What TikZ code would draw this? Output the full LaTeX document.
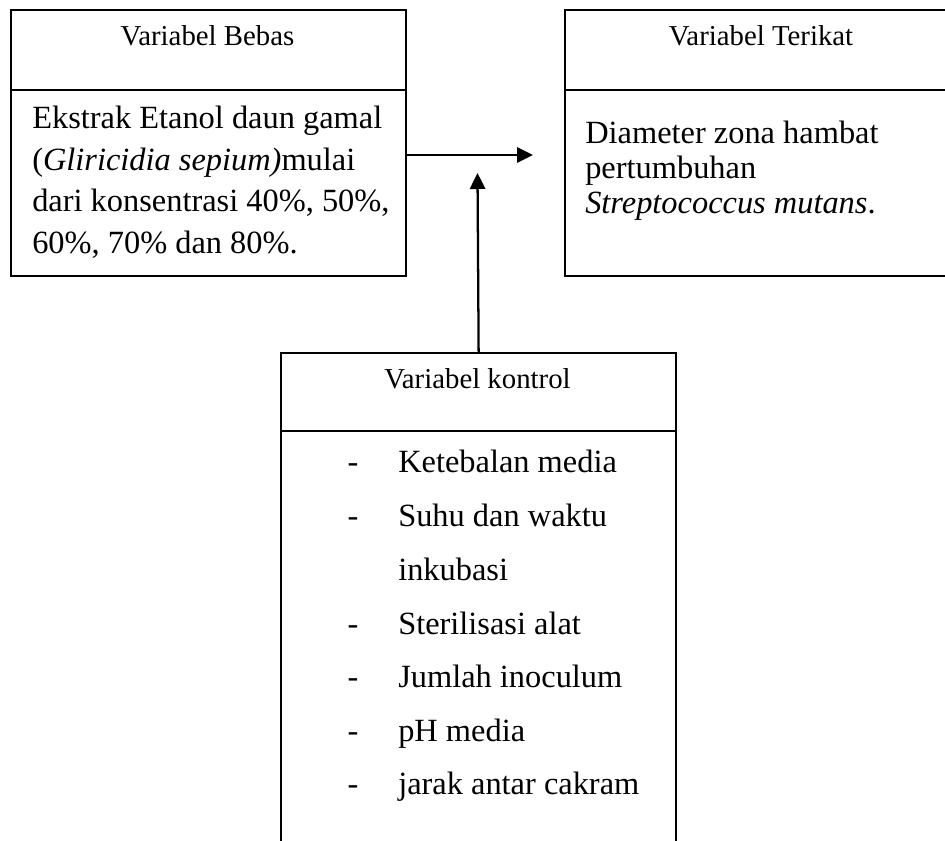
\documentclass[tikz,border=0pt]{standalone}
\usepackage{fontspec}
\setmainfont{Liberation Serif}
\usetikzlibrary{arrows.meta}
\tikzset{
  cell/.style={draw, line width=1.7pt, rectangle, inner sep=0pt, anchor=north west},
  headtxt/.style={font=\fontsize{21.6}{26}\selectfont, inner sep=0pt, anchor=base},
  bodytxt/.style={font=\fontsize{24.3}{29}\selectfont, inner sep=0pt, anchor=base west},
  dashtxt/.style={font=\fontsize{24.3}{29}\selectfont, inner sep=0pt, anchor=base},
  arr/.style={line width=1.7pt, -{Triangle[length=12pt,width=11.5pt]}}
}
\begin{document}
\begin{tikzpicture}[x=0.75pt,y=-0.75pt]
\useasboundingbox (0,0) rectangle (945,841);
\clip (0,0) rectangle (945,841);
\fill[white] (0,0) rectangle (945,841);
% Variabel Bebas
\node[cell, minimum width=395*0.75pt, minimum height=80*0.75pt] (bebasH) at (10,9) {};
\node[cell, minimum width=395*0.75pt, minimum height=186*0.75pt] (bebasB) at (10,89) {};
\node[headtxt] (bebasT) at (207.5,46) {Variabel Bebas};
\node[bodytxt] (b1) at (32,128.5) {Ekstrak Etanol daun gamal};
\node[bodytxt] (b2) at (32,170.5) {(\textit{Gliricidia sepium)}mulai};
\node[bodytxt] (b3) at (32,212) {dari konsentrasi 40\%, 50\%,};
\node[bodytxt] (b4) at (32,253.5) {60\%, 70\% dan 80\%.};
% Variabel Terikat
\node[cell, minimum width=396*0.75pt, minimum height=80*0.75pt] (terikatH) at (564,9) {};
\node[cell, minimum width=396*0.75pt, minimum height=186*0.75pt] (terikatB) at (564,89) {};
\node[headtxt] (terikatT) at (761,46) {Variabel Terikat};
\node[bodytxt] (t1) at (585,144) {Diameter zona hambat};
\node[bodytxt] (t2) at (585,179) {pertumbuhan};
\node[bodytxt] (t3) at (585,214) {\textit{Streptococcus mutans}.};
% Variabel kontrol
\node[cell, minimum width=395*0.75pt, minimum height=78*0.75pt] (kontrolH) at (280,352) {};
\node[cell, minimum width=395*0.75pt, minimum height=450*0.75pt] (kontrolB) at (280,430) {};
\node[headtxt] (kontrolT) at (477.5,388) {Variabel kontrol};
\foreach \i/\y/\d/\t in {1/472/-/Ketebalan media, 2/526/-/Suhu dan waktu, 3/580//inkubasi, 4/634/-/Sterilisasi alat, 5/687/-/Jumlah inoculum, 6/741/-/pH media, 7/794/-/jarak antar cakram}{
  \node[dashtxt] (d\i) at (353,\y) {\d};
  \node[bodytxt] (k\i) at (398,\y) {\t};
}
% arrows
\coordinate (tipH) at (533,155);
\coordinate (tipV) at (477.5,173);
\draw[arr] (bebasB.east |- tipH) -- (tipH);
\draw[arr] (kontrolH.north) -- (tipV);
\end{tikzpicture}
\end{document}
